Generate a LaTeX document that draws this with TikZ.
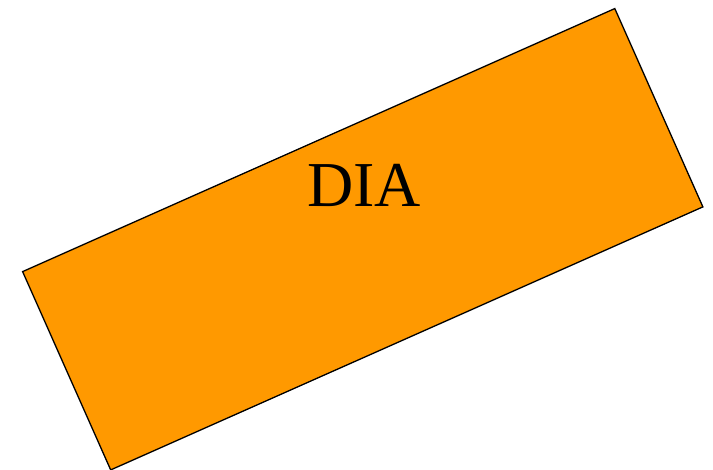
\documentclass[tikz,border=0pt]{standalone}
\usepackage{fontspec}
\setmainfont{Liberation Serif}
\usepackage{tikz}
\usetikzlibrary{positioning}
\definecolor{diaFill}{HTML}{FF9900}
\definecolor{diaEdge}{HTML}{000000}
\tikzset{
  diabox/.style={draw=diaEdge,line width=1.3pt,fill=diaFill,rotate=23.95,
                 minimum width=648pt,minimum height=217pt,inner sep=0pt},
  dialbl/.style={font=\fontsize{64}{70}\selectfont,text=black,inner sep=0pt},
}
\begin{document}
\begin{tikzpicture}[x=1pt,y=1pt]
  \useasboundingbox (0,0) rectangle (713,470);
  \node[diabox] (box) at (362.75,230.75) {};
  \node[dialbl] (lbl) at (364,285) {DIA};
\end{tikzpicture}
\end{document}
